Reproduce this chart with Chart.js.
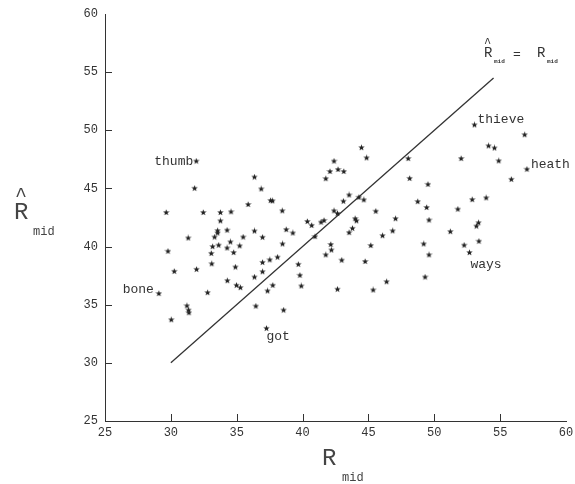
<!DOCTYPE html>
<html>
<head>
<meta charset="utf-8">
<script src="https://cdn.jsdelivr.net/npm/chart.js@4/dist/chart.umd.min.js"></script>
<style>
html,body{margin:0;padding:0;background:#fff;}
#wrap{width:575px;height:484px;position:relative;}
</style>
</head>
<body>
<div id="wrap"><canvas id="c" width="575" height="484"></canvas></div>
<script>
// ---- data ----
const rmid = [31.93,31.80,36.35,36.86,29.65,32.46,33.76,34.57,35.87,33.76,34.27,33.55,36.35,37.57,31.32,33.32,33.55,35.49,36.96,29.78,
  33.17,33.63,34.52,34.27,35.23,34.77,33.07,30.26,31.95,33.10,34.90,36.96,37.51,36.35,36.96,34.29,34.98,35.28,29.09,32.79,
  37.34,31.22,31.34,31.37,30.03,36.45,37.26,44.47,44.86,42.39,42.08,42.69,43.13,41.76,48.02,48.13,48.74,37.72,38.46,43.53,
  43.10,44.27,44.65,42.39,42.65,45.56,40.36,40.69,41.40,41.63,43.99,44.09,47.06,38.76,43.79,46.84,39.26,38.48,40.94,43.53,
  46.07,42.14,42.19,41.76,45.18,38.10,39.68,42.97,44.75,39.80,37.74,39.90,42.65,45.36,46.38,38.56,53.05,56.86,54.12,54.57,
  52.04,54.89,57.03,55.85,49.52,49.42,52.88,53.94,51.79,49.60,53.36,53.20,51.22,49.20,49.60,52.27,53.39,52.67,49.30];
const rmidHat = [47.35,45.01,45.98,44.96,42.93,42.93,42.93,42.99,43.62,42.21,41.41,41.37,41.34,43.96,40.74,40.82,41.17,40.82,40.80,39.60,
  40.00,40.12,40.40,39.88,40.06,39.49,39.41,37.87,38.04,38.52,38.24,38.64,38.86,37.38,37.84,37.07,36.67,36.47,35.96,36.04,
  36.19,34.91,34.54,34.31,33.71,34.88,32.97,48.51,47.63,47.35,46.46,46.63,46.46,45.84,47.57,45.86,43.87,43.93,43.08,44.44,
  43.90,44.24,44.02,43.08,42.85,43.04,42.16,41.82,42.10,42.25,42.40,42.22,42.40,41.46,41.57,41.35,41.17,40.23,40.86,41.20,
  40.94,40.18,39.71,39.29,40.09,39.09,38.47,38.83,38.72,37.53,36.67,36.61,36.33,36.27,36.98,34.54,50.47,49.62,48.66,48.48,
  47.57,47.37,46.65,45.78,45.35,43.36,44.04,44.19,43.22,42.28,42.05,41.76,41.29,40.23,39.29,40.12,40.46,39.49,37.38];
const wordNames = ['thumb','bone','got','thieve','heath','ways'];
const wordX = [31.93,29.09,37.26,53.05,57.03,52.67];
const wordY = [47.35,35.96,32.97,50.47,46.65,39.49];
const diagonalX = [30,54.5];
const diagonalY = [30,54.5];
const tickValues = [25,30,35,40,45,50,55,60];

// ---- star marker ----
function makeStar(){
  const c=document.createElement('canvas');c.width=7;c.height=7;
  const g=c.getContext('2d');g.fillStyle='#222';g.beginPath();
  for(let i=0;i<10;i++){const r=i%2?1.4:3.4;const a=-Math.PI/2+i*Math.PI/5;
    const px=3.5+r*Math.cos(a),py=3.6+r*Math.sin(a);i?g.lineTo(px,py):g.moveTo(px,py);}
  g.closePath();g.fill();return c;
}
const star=makeStar();

const MONO='"Liberation Mono","DejaVu Sans Mono",monospace';

const decor={
  id:'decor',
  afterDraw(chart){
    const g=chart.ctx, xs=chart.scales.x, ys=chart.scales.y;
    g.save();
    // inward ticks
    g.strokeStyle='#333';g.lineWidth=1;
    tickValues.forEach(v=>{
      if(v===tickValues[0]||v===tickValues[tickValues.length-1])return;
      const px=Math.round(xs.getPixelForValue(v))+0.5;
      g.beginPath();g.moveTo(px,ys.bottom);g.lineTo(px,ys.bottom-7);g.stroke();
      const py=Math.round(ys.getPixelForValue(v))+0.5;
      g.beginPath();g.moveTo(xs.left,py);g.lineTo(xs.left+7,py);g.stroke();
    });
    // word labels
    g.fillStyle='#333';g.font='13px '+MONO;
    const off=[[-3,4,'right'],[-5,-1,'right'],[0,12,'left'],[3,-2,'left'],[4,-1,'left'],[1,15,'left']];
    wordNames.forEach((w,i)=>{
      const px=xs.getPixelForValue(wordX[i]), py=ys.getPixelForValue(wordY[i]);
      g.textAlign=off[i][2];g.textBaseline='alphabetic';
      g.fillText(w,px+off[i][0],py+off[i][1]);
    });
    // equation label
    g.textAlign='left';
    g.font='14px '+MONO;g.fillText('R',484,57);g.fillText('R',537,57);
    g.font='12px '+MONO;g.fillText('^',484,47);
    g.font='13px '+MONO;g.fillText('=',513,58);
    g.font='bold 6px '+MONO;g.fillText('mid',494,63);g.fillText('mid',547,63);
    // axis titles
    g.fillStyle='#444';
    g.font='24px '+MONO;g.fillText('R',322,465);
    g.font='12px '+MONO;g.fillText('mid',342,481);
    g.font='24px '+MONO;g.fillText('R',14,219);
    g.font='20px '+MONO;g.fillText('^',15,201);
    g.font='12px '+MONO;g.fillText('mid',33,235);
    g.restore();
  }
};

new Chart(document.getElementById('c'),{
  data:{datasets:[
    {type:'scatter',data:rmid.map((v,i)=>({x:v,y:rmidHat[i]})),pointStyle:star,pointRadius:3,order:1},
    {type:'line',data:diagonalX.map((v,i)=>({x:v,y:diagonalY[i]})),borderColor:'#333',borderWidth:1.3,pointRadius:0,fill:false,order:2}
  ]},
  options:{
    responsive:false,animation:false,devicePixelRatio:1,
    layout:{padding:{top:14,right:9,left:0,bottom:0}},
    plugins:{legend:{display:false},tooltip:{enabled:false}},
    scales:{
      x:{type:'linear',min:25,max:60,
        ticks:{stepSize:5,color:'#333',padding:5,font:{family:MONO,size:12},maxRotation:0},
        grid:{display:true,drawOnChartArea:false,drawTicks:false},
        border:{display:true,color:'#333',width:1},
        afterFit(s){s.height=63;s.paddingLeft=0;s.paddingRight=0;}},
      y:{type:'linear',min:25,max:60,
        ticks:{stepSize:5,color:'#333',padding:7,font:{family:MONO,size:12}},
        grid:{display:true,drawOnChartArea:false,drawTicks:false},
        border:{display:true,color:'#333',width:1},
        afterFit(s){s.width=105;s.paddingTop=0;s.paddingBottom=0;}}
    }
  },
  plugins:[decor]
});
</script>
</body>
</html>
